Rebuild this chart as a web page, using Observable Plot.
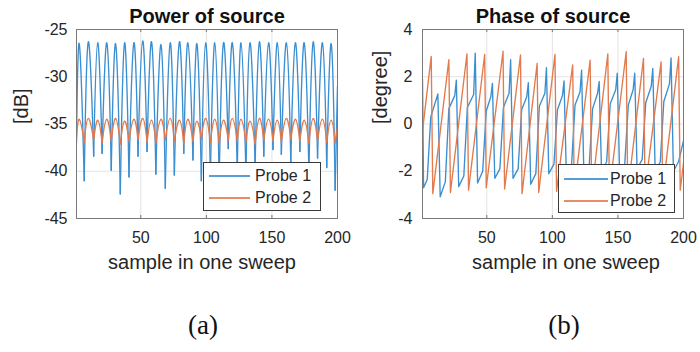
<!DOCTYPE html>
<html><head><meta charset="utf-8">
<script src="https://cdn.jsdelivr.net/npm/d3@7"></script>
<script src="https://cdn.jsdelivr.net/npm/@observablehq/plot@0.6"></script>
<style>
body{margin:0;background:#fff;}
#wrap{position:relative;width:700px;height:352px;overflow:hidden;font-family:"Liberation Sans",Arial,sans-serif;}
.panel{position:absolute;top:0;}
.legend{position:absolute;box-sizing:border-box;background:#fff;border:1px solid #3a3a3a;font-size:16px;color:#262626;}
.row{position:absolute;left:0;height:20px;line-height:20px;white-space:nowrap;}
.sw{position:absolute;top:9px;height:1px;border-bottom:1px solid;opacity:0.85;}
.lt{position:absolute;top:0;}
.cap{position:absolute;font-family:"Liberation Serif","Times New Roman",serif;font-size:27px;color:#111;transform:translate(-50%,-50%);}
</style></head><body><div id="wrap"></div>
<script>
// ---------- data ----------
const seriesNames = ["Probe 1", "Probe 2"];
const xTicks = [50, 100, 150, 200];
const powerTicks = [-45, -40, -35, -30, -25];
const phaseTicks = [-4, -2, 0, 2, 4];

// Power of source: extrema (sample index, dB)
const powerPeakX = [3.1,10.0,17.2,24.1,30.8,37.7,44.8,51.5,58.2,65.4,72.5,79.5,85.9,92.8,99.5,106.4,113.1,119.8,126.4,133.3,140.5,147.5,154.1,161.0,167.9,174.6,181.5,188.5,195.2];
const powerTroughX = [1,6.9,14.1,20.5,27.5,34.4,41.0,47.9,54.8,61.5,68.7,75.6,82.8,89.8,96.2,103.1,109.8,116.7,123.6,130.2,137.2,143.8,150.8,157.2,164.4,171.3,178.2,184.8,191.8,198.2,200];
const power1Peak = [-26.5,-26.3,-26.4,-26.4,-26.5,-26.4,-26.4,-26.2,-26.3,-26.6,-26.4,-26.3,-26.4,-26.5,-26.4,-26.4,-26.4,-26.4,-26.4,-26.4,-26.3,-26.4,-26.4,-26.4,-26.4,-26.4,-26.3,-26.4,-26.5];
const power1Trough = [-37.0,-41.0,-38.4,-38.1,-39.9,-42.4,-40.6,-38.4,-37.9,-40.3,-41.8,-40.4,-38.1,-38.8,-41.0,-40.5,-41.0,-37.6,-40.0,-40.5,-39.5,-38.4,-37.7,-38.2,-39.0,-37.9,-40.0,-38.6,-39.6,-42.0,-31.0];
const power2Peak = [-34.5,-34.4,-34.6,-34.5,-34.4,-34.7,-34.5,-34.4,-34.6,-34.5,-34.4,-34.6,-34.5,-34.7,-34.4,-34.5,-34.6,-34.4,-34.5,-34.7,-34.4,-34.5,-34.6,-34.4,-34.5,-34.6,-34.4,-34.5,-34.6];
const power2Trough = [-36.5,-36.9,-36.7,-37.0,-36.8,-37.1,-36.8,-36.6,-36.9,-37.0,-36.7,-36.8,-37.1,-36.8,-36.6,-36.9,-37.0,-36.7,-36.8,-36.9,-37.1,-36.7,-36.8,-36.9,-36.6,-36.8,-37.0,-36.8,-36.9,-37.0,-35.3];

// Phase of source, Probe 1: vertices (sample index, degree)
const phase1X = [1,1.8,4.6,7.3,11.5,12.7,
  14.5,18.4,21.1,25.6,26.8, 28.6,32.5,35.2,40.0,41.2, 43.0,46.9,49.6,53.1,54.3,
  56.1,60.0,62.7,67.0,68.2, 70.0,73.9,76.6,80.5,81.7, 83.5,87.4,90.1,94.3,95.5,
  97.3,101.2,103.9,107.7,108.9, 110.7,114.6,117.3,121.1,122.3, 124.1,128.0,130.7,134.5,135.7,
  137.5,141.4,144.1,148.3,149.5, 151.3,155.2,157.9,161.6,162.8, 164.6,168.5,171.2,175.4,176.6,
  178.4,182.3,185.0,189.3,190.5, 192.3,196.2,200];
const phase1Y = [1.9,-2.7,-2.35,0.3,1.05,1.27,
  -3.08,-2.45,0.65,1.2,1.86, -2.65,-2.2,0.7,1.25,3.0, -2.5,-2.0,0.55,1.15,1.72,
  -2.3,-1.9,0.7,1.3,2.72, -2.3,-1.9,0.6,1.15,1.75, -2.55,-2.1,0.75,1.3,2.38,
  -2.1,-1.7,0.6,1.2,1.82, -2.2,-1.8,0.8,1.35,2.28, -2.3,-1.85,0.65,1.3,1.8,
  -2.0,-1.6,0.85,1.45,2.15, -2.1,-1.7,0.8,1.45,2.15, -1.9,-1.5,0.9,1.6,2.35,
  -2.0,-1.6,0.95,1.7,2.8, -2.0,-1.6,-0.7];
// Phase of source, Probe 2: vertices (sample index, degree)
const phase2X = [1,7.65,8.85,21.1,22.3,34.9,36.1,48.4,49.6,62.4,63.6,75.7,76.9,88.4,89.6,102.0,103.2,115.5,116.7,128.8,130.0,142.3,143.5,156.3,157.5,169.5,170.7,182.9,184.1,196.3,197.5,200];
const phase2Y = [-0.3,2.86,-2.95,2.72,-2.9,2.97,-2.8,2.94,-2.7,3.08,-2.75,2.92,-2.95,2.56,-2.9,2.94,-2.85,2.5,-2.8,2.7,-2.9,2.97,-2.85,3.06,-2.9,2.78,-2.8,2.63,-2.85,2.85,-2.8,-1.65];

// ---------- build tables ----------
function archRows(peakX, peakY, troughX, troughY, series) {
  const rows = [];
  const n = peakX.length;
  for (let k = 0; k < n; k++) {
    rows.push({x: troughX[k], y: troughY[k], arch: k, series});
    rows.push({x: peakX[k], y: peakY[k], arch: k, series});
    rows.push({x: troughX[k + 1], y: troughY[k + 1], arch: k, series});
  }
  rows.push({x: troughX[n], y: troughY[n], arch: n, series});
  rows.push({x: troughX[n + 1], y: troughY[n + 1], arch: n, series});
  return rows;
}
const power1 = archRows(powerPeakX, power1Peak, powerTroughX, power1Trough, seriesNames[0]);
const power2 = archRows(powerPeakX, power2Peak, powerTroughX, power2Trough, seriesNames[1]);
const phase1 = phase1X.map((x, i) => ({x, y: phase1Y[i], series: seriesNames[0]}));
const phase2 = phase2X.map((x, i) => ({x, y: phase2Y[i], series: seriesNames[1]}));

const colors = ["#3b8ed0", "#e27a4d"];
const axisColor = "#262626";
const font = "Liberation Sans, Arial, sans-serif";
const fmt = d => String(d);

function panel({title, ylabel, yDomain, yTicks, marginLeft, marginRight, lines, ylabelDx, xlabelDx, yPad}) {
  const innerH = 290 - 29 - 72;
  return Plot.plot({
    width: 350, height: 290,
    marginLeft, marginRight, marginTop: 29, marginBottom: 72,
    style: {fontFamily: font, fontSize: "16px", color: axisColor, background: "transparent", overflow: "visible"},
    x: {domain: [1, 200]},
    y: {domain: yDomain},
    marks: [
      Plot.gridX(xTicks, {stroke: "#e3e3e3", strokeOpacity: 1}),
      Plot.gridY(yTicks, {stroke: "#e3e3e3", strokeOpacity: 1}),
      ...lines,
      Plot.tickX(xTicks, {x: d => d, insetTop: innerH - 3, stroke: "#777"}),
      Plot.tickX(xTicks, {x: d => d, insetBottom: innerH - 3, stroke: "#777"}),
      Plot.frame({stroke: "#7a7a7a"}),
      Plot.axisX(xTicks, {tickSize: 0, tickPadding: 13, fontSize: 16, label: null, fill: axisColor, tickFormat: fmt}),
      Plot.axisY(yTicks, {tickSize: 0, tickPadding: yPad, fontSize: 16, label: null, fill: axisColor, tickFormat: fmt}),
      Plot.text([title], {frameAnchor: "top", dy: -13, lineAnchor: "middle", fontSize: 20, fontWeight: "bold", fill: "#111"}),
      Plot.text(["sample in one sweep"], {frameAnchor: "bottom", dy: 44.5, dx: xlabelDx, lineAnchor: "middle", fontSize: 20, fill: axisColor}),
      Plot.text([ylabel], {frameAnchor: "left", dx: ylabelDx, rotate: -90, lineAnchor: "middle", fontSize: 20, fill: axisColor})
    ]
  });
}

const wrap = document.getElementById("wrap");

const left = panel({
  title: "Power of source", ylabel: "[dB]", yDomain: [-45, -25], yTicks: powerTicks,
  marginLeft: 76, marginRight: 13, ylabelDx: -55, xlabelDx: -5, yPad: 9,
  lines: [
    Plot.line(power1, {x: "x", y: "y", z: "arch", stroke: colors[0], strokeWidth: 1.35, curve: "cardinal", tension: -0.3, clip: true}),
    Plot.line(power2, {x: "x", y: "y", z: "arch", stroke: colors[1], strokeWidth: 1.35, curve: "cardinal", tension: -0.3, clip: true})
  ]
});
const right = panel({
  title: "Phase of source", ylabel: "[degree]", yDomain: [-4, 4], yTicks: phaseTicks,
  marginLeft: 72, marginRight: 17, ylabelDx: -42, xlabelDx: 13, yPad: 10,
  lines: [
    Plot.line(phase1, {x: "x", y: "y", stroke: colors[0], strokeWidth: 1.35, clip: true}),
    Plot.line(phase2, {x: "x", y: "y", stroke: colors[1], strokeWidth: 1.35, clip: true})
  ]
});
left.classList.add("panel"); left.style.left = "0px";
right.classList.add("panel"); right.style.left = "350px";
wrap.appendChild(left);
wrap.appendChild(right);

function legend(x, y, w, h, swLeft, swWidth, textLeft, rowTops) {
  const d = document.createElement("div");
  d.className = "legend";
  Object.assign(d.style, {left: x + "px", top: y + "px", width: w + "px", height: h + "px"});
  seriesNames.forEach((name, i) => {
    const r = document.createElement("div");
    r.className = "row";
    r.style.top = rowTops[i] + "px";
    r.style.width = "100%";
    const s = document.createElement("span");
    s.className = "sw";
    Object.assign(s.style, {left: swLeft + "px", width: swWidth + "px", background: colors[i], borderBottomColor: colors[i]});
    const t = document.createElement("span");
    t.className = "lt";
    t.style.left = textLeft + "px";
    t.textContent = name;
    r.appendChild(s); r.appendChild(t);
    d.appendChild(r);
  });
  wrap.appendChild(d);
}
legend(203, 162, 118, 49, 5, 41, 51, [3, 25]);
legend(558, 164, 117, 49, 5, 44, 51, [4, 26]);

function caption(text, x, y) {
  const c = document.createElement("div");
  c.className = "cap";
  c.style.left = x + "px"; c.style.top = y + "px";
  c.textContent = text;
  wrap.appendChild(c);
}
caption("(a)", 203, 325);
caption("(b)", 564, 325);
</script></body></html>
